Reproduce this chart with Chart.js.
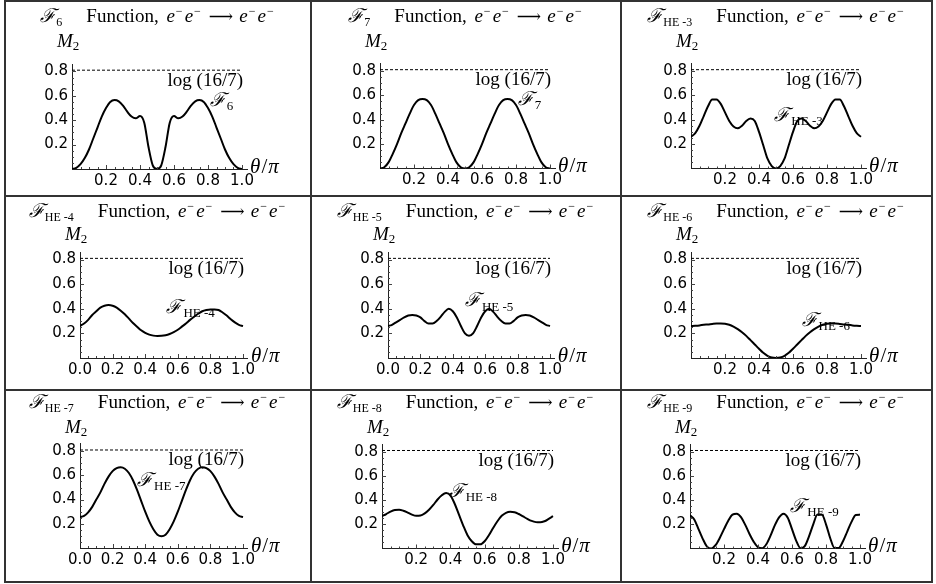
<!DOCTYPE html>
<html>
<head>
<meta charset="utf-8">
<script src="https://cdn.jsdelivr.net/npm/chart.js@4.4.1/dist/chart.umd.min.js"></script>
<style>
  html, body { margin: 0; padding: 0; background: #fff; }
  #sheet { position: relative; width: 936px; height: 584px; overflow: hidden; }
  .cell { position: absolute; }
  .cell canvas { position: absolute; left: 0; top: 0; }
  .rule { position: absolute; background: #333; }
  .title {
    position: absolute; left: 0; right: 0; height: 20px; line-height: 20px;
    text-align: center; white-space: nowrap; color: #000;
    font-family: "Liberation Serif", "DejaVu Serif", serif; font-size: 19px; word-spacing: 3px;
  }
  .title .cal { font-family: "DejaVu Serif", serif; font-style: italic; font-size: 19px; }
  .title sub, .title sup { font-size: 12px; line-height: 0; position: relative; vertical-align: baseline; word-spacing: 0; }
  .title sub { top: 4px; }
  .title sup { top: -7px; margin: 0 2px 0 1px; }
  .title .gap { display: inline-block; width: 24px; }
  .title .arr { font-family: "DejaVu Serif", serif; font-size: 17px; margin: 0 6px; }
</style>
</head>
<body>
<div id="sheet"></div>
<script>
'use strict';

/* ---------- data ---------- */
const theta = [0, 0.025, 0.05, 0.075, 0.1, 0.125, 0.15, 0.175, 0.2, 0.225, 0.25, 0.275, 0.3, 0.325, 0.35, 0.375, 0.4, 0.425, 0.45, 0.475, 0.5,
  0.525, 0.55, 0.575, 0.6, 0.625, 0.65, 0.675, 0.7, 0.725, 0.75, 0.775, 0.8, 0.825, 0.85, 0.875, 0.9, 0.925, 0.95, 0.975, 1];

const f6 = [0, 0.01, 0.04, 0.09, 0.16, 0.25, 0.34, 0.43, 0.50, 0.55, 0.565, 0.555, 0.52, 0.47, 0.43, 0.415, 0.435, 0.38, 0.18, 0.03, 0,
  0.03, 0.18, 0.38, 0.435, 0.415, 0.43, 0.47, 0.52, 0.555, 0.565, 0.55, 0.50, 0.43, 0.34, 0.25, 0.16, 0.09, 0.04, 0.01, 0];
const f7 = [0, 0.01, 0.05, 0.12, 0.2, 0.29, 0.37, 0.45, 0.52, 0.56, 0.57, 0.56, 0.52, 0.45, 0.37, 0.29, 0.2, 0.12, 0.05, 0.01, 0,
  0.01, 0.05, 0.12, 0.2, 0.29, 0.37, 0.45, 0.52, 0.56, 0.57, 0.56, 0.52, 0.45, 0.37, 0.29, 0.2, 0.12, 0.05, 0.01, 0];
const he3 = [0.26, 0.29, 0.35, 0.43, 0.51, 0.565, 0.565, 0.53, 0.46, 0.39, 0.345, 0.33, 0.35, 0.39, 0.41, 0.39, 0.30, 0.19, 0.08, 0.02, 0,
  0.02, 0.08, 0.19, 0.30, 0.39, 0.41, 0.39, 0.35, 0.33, 0.345, 0.39, 0.46, 0.53, 0.565, 0.565, 0.51, 0.43, 0.35, 0.29, 0.26];
const he4 = [0.26, 0.28, 0.31, 0.35, 0.38, 0.41, 0.425, 0.43, 0.425, 0.41, 0.385, 0.355, 0.32, 0.285, 0.255, 0.225, 0.205, 0.19, 0.182, 0.179, 0.18,
  0.185, 0.195, 0.21, 0.23, 0.255, 0.28, 0.31, 0.335, 0.36, 0.38, 0.39, 0.395, 0.395, 0.39, 0.37, 0.345, 0.315, 0.29, 0.27, 0.26];
const he5 = [0.26, 0.27, 0.29, 0.31, 0.33, 0.345, 0.35, 0.345, 0.33, 0.30, 0.28, 0.28, 0.30, 0.335, 0.375, 0.40, 0.38, 0.33, 0.26, 0.20, 0.18,
  0.20, 0.26, 0.33, 0.38, 0.40, 0.375, 0.335, 0.30, 0.28, 0.28, 0.30, 0.33, 0.345, 0.35, 0.345, 0.33, 0.31, 0.29, 0.27, 0.26];
const he6 = [0.26, 0.262, 0.265, 0.27, 0.273, 0.277, 0.28, 0.28, 0.278, 0.27, 0.255, 0.235, 0.21, 0.18, 0.145, 0.11, 0.075, 0.042, 0.018, 0.004, 0,
  0.004, 0.018, 0.042, 0.075, 0.11, 0.145, 0.18, 0.21, 0.235, 0.255, 0.27, 0.278, 0.28, 0.28, 0.277, 0.273, 0.27, 0.265, 0.262, 0.26];
const he7 = [0.255, 0.265, 0.295, 0.34, 0.40, 0.46, 0.53, 0.59, 0.635, 0.66, 0.667, 0.655, 0.62, 0.56, 0.48, 0.39, 0.30, 0.22, 0.155, 0.11, 0.097,
  0.11, 0.155, 0.22, 0.30, 0.39, 0.48, 0.56, 0.62, 0.655, 0.667, 0.66, 0.635, 0.59, 0.53, 0.46, 0.40, 0.34, 0.295, 0.265, 0.255];
const he8 = [0.267, 0.285, 0.305, 0.318, 0.32, 0.312, 0.297, 0.28, 0.27, 0.272, 0.29, 0.32, 0.36, 0.405, 0.44, 0.458, 0.44, 0.37, 0.28, 0.19, 0.11,
  0.06, 0.035, 0.035, 0.06, 0.11, 0.17, 0.225, 0.27, 0.295, 0.303, 0.30, 0.285, 0.265, 0.245, 0.228, 0.218, 0.216, 0.225, 0.245, 0.267];
const he9 = [0.275, 0.24, 0.16, 0.08, 0.016, 0, 0.027, 0.087, 0.16, 0.23, 0.28, 0.288, 0.26, 0.195, 0.12, 0.055, 0.01, 0.002, 0.037, 0.11, 0.195,
  0.26, 0.288, 0.255, 0.16, 0.063, 0.003, 0.019, 0.1, 0.2, 0.28, 0.28, 0.2, 0.085, 0.005, 0.005, 0.06, 0.14, 0.22, 0.277, 0.28];

const xTicksFrom0 = [0, 0.2, 0.4, 0.6, 0.8, 1.0];
const xTicksFrom02 = [0.2, 0.4, 0.6, 0.8, 1.0];
const yTicks = [0.2, 0.4, 0.6, 0.8];
const logLine = 0.81;          // log(16/7) reference line
const names = ['6', '7', 'HE -3', 'HE -4', 'HE -5', 'HE -6', 'HE -7', 'HE -8', 'HE -9'];

/* ---------- layout (pixels) ---------- */
const X_MAX = 1.03, Y_MAX = 0.86;
const colX = [6, 312, 622], colW = [304, 308, 309];
const rowY = [2, 197, 391], rowH = [193, 192, 190];
const titleMid = [15, 210, 401];
const m2Mid = [42, 235, 428];
const SERIF = '"Liberation Serif", "DejaVu Serif", serif';
const SANS = '"DejaVu Sans", sans-serif';

// axis origin (ax, ay), px per unit (sx, sy), label spot in data units
const panels = [
  { vals: f6,  ticks: xTicksFrom02, ax: 72,  ay: 169,   sx: 170, sy: 122, lab: [0.81, 0.56] },
  { vals: f7,  ticks: xTicksFrom02, ax: 380, ay: 168.5, sx: 170, sy: 122, lab: [0.81, 0.565] },
  { vals: he3, ticks: xTicksFrom02, ax: 691, ay: 168.5, sx: 170, sy: 122, lab: [0.49, 0.43] },
  { vals: he4, ticks: xTicksFrom0,  ax: 80,  ay: 358,   sx: 163, sy: 123, lab: [0.53, 0.41] },
  { vals: he5, ticks: xTicksFrom0,  ax: 388, ay: 358,   sx: 162, sy: 123, lab: [0.475, 0.46] },
  { vals: he6, ticks: xTicksFrom02, ax: 691, ay: 358,   sx: 170, sy: 123, lab: [0.65, 0.30] },
  { vals: he7, ticks: xTicksFrom0,  ax: 80,  ay: 548,   sx: 163, sy: 121, lab: [0.35, 0.555] },
  { vals: he8, ticks: xTicksFrom02, ax: 382, ay: 548.5, sx: 171, sy: 121, lab: [0.39, 0.47] },
  { vals: he9, ticks: xTicksFrom02, ax: 690, ay: 548.5, sx: 170, sy: 121, lab: [0.59, 0.34] }
];

/* ---------- helpers ---------- */
function drawScript(ctx, x, y, sub, size) {
  // calligraphic F with an upright subscript, vertically centred on y
  ctx.textAlign = 'left';
  ctx.textBaseline = 'middle';
  ctx.font = 'italic ' + size + 'px "DejaVu Serif", serif';
  ctx.fillText('ℱ', x, y);
  const w = ctx.measureText('ℱ').width;
  ctx.font = Math.round(size * 0.68) + 'px ' + SERIF;
  ctx.fillText(sub, x + w + 1, y + size * 0.3);
}

const decor = {
  id: 'decor',
  afterDraw(chart, args, opts) {
    const { ctx } = chart;
    const x = chart.scales.x, y = chart.scales.y;
    ctx.save();
    ctx.fillStyle = '#000';

    // tick marks pointing into the plot (major every 0.2, minor every 0.05)
    ctx.strokeStyle = '#444';
    ctx.lineWidth = 1;
    for (let k = 1; k <= 20; k++) {
      const px = Math.round(x.getPixelForValue(k / 20)) + 0.5;
      const len = k % 4 === 0 ? 4 : 2;
      ctx.beginPath(); ctx.moveTo(px, y.bottom); ctx.lineTo(px, y.bottom - len); ctx.stroke();
    }
    for (let k = 1; k <= 16; k++) {
      const py = Math.round(y.getPixelForValue(k / 20)) + 0.5;
      const len = k % 4 === 0 ? 4 : 2;
      ctx.beginPath(); ctx.moveTo(x.left, py); ctx.lineTo(x.left + len, py); ctx.stroke();
    }

    // log(16/7) under the dashed line
    ctx.font = '19px ' + SERIF;
    ctx.textAlign = 'right';
    ctx.textBaseline = 'top';
    ctx.fillText('log (16/7)', x.getPixelForValue(1) + 1, y.getPixelForValue(logLine) + 1);

    // curve label
    drawScript(ctx, x.getPixelForValue(opts.lab[0]), y.getPixelForValue(opts.lab[1]), opts.name, 19);

    // M_2 above the vertical axis
    const my = opts.mY;
    ctx.textAlign = 'left';
    ctx.textBaseline = 'middle';
    ctx.font = 'italic 19px ' + SERIF;
    ctx.fillText('M', x.left - 15, my);
    const mw = ctx.measureText('M').width;
    ctx.font = '13px ' + SERIF;
    ctx.fillText('2', x.left - 15 + mw, my + 5);

    // θ/π at the end of the horizontal axis
    let tx = x.right + 3;
    const ty = y.bottom - 2;
    ctx.font = 'italic 21px ' + SERIF;
    ctx.fillText('θ', tx, ty); tx += ctx.measureText('θ').width + 1;
    ctx.font = '21px ' + SERIF;
    ctx.fillText('/', tx, ty); tx += ctx.measureText('/').width + 1;
    ctx.font = 'italic 21px ' + SERIF;
    ctx.fillText('π', tx, ty);
    ctx.restore();
  }
};

/* ---------- build the sheet ---------- */
const sheet = document.getElementById('sheet');

function rule(l, t, w, h) {
  const d = document.createElement('div');
  d.className = 'rule';
  Object.assign(d.style, { left: l + 'px', top: t + 'px', width: w + 'px', height: h + 'px' });
  sheet.appendChild(d);
}
[4, 310, 620, 931].forEach(l => rule(l, 0, 2, 583));
[0, 195, 389, 581].forEach(t => rule(4, t, 929, 2));

panels.forEach((p, i) => {
  const col = i % 3, row = Math.floor(i / 3);
  const cx = colX[col], cy = rowY[row], cw = colW[col], ch = rowH[row];

  const cell = document.createElement('div');
  cell.className = 'cell';
  Object.assign(cell.style, { left: cx + 'px', top: cy + 'px', width: cw + 'px', height: ch + 'px' });
  const canvas = document.createElement('canvas');
  canvas.width = cw; canvas.height = ch;
  cell.appendChild(canvas);
  sheet.appendChild(cell);

  const title = document.createElement('div');
  title.className = 'title';
  title.style.left = cx + 'px';
  title.style.width = cw + 'px';
  title.style.top = (titleMid[row] - 10) + 'px';
  title.innerHTML = '<span class="cal">ℱ</span><sub>' + names[i] + '</sub><span class="gap"></span>Function, ' +
    '<i>e</i><sup>−</sup><i>e</i><sup>−</sup><span class="arr">⟶</span><i>e</i><sup>−</sup><i>e</i><sup>−</sup>';
  sheet.appendChild(title);

  const yAxisW = p.ax - cx;
  const padTop = (p.ay - Y_MAX * p.sy) - cy;
  const xAxisH = cy + ch - p.ay;
  const padRight = cx + cw - (p.ax + X_MAX * p.sx);

  const tickFont = { family: SANS, size: 15 };

  new Chart(canvas, {
    type: 'line',
    data: {
      datasets: [
        {
          data: theta.map((t, k) => ({ x: t, y: p.vals[k] })),
          borderColor: '#000',
          borderWidth: 2,
          pointRadius: 0,
          cubicInterpolationMode: 'monotone',
          fill: false
        },
        {
          data: [{ x: 0, y: logLine }, { x: 1, y: logLine }],
          borderColor: '#000',
          borderWidth: 1,
          borderDash: [3, 2],
          pointRadius: 0,
          fill: false
        }
      ]
    },
    options: {
      responsive: false,
      animation: false,
      events: [],
      layout: { padding: { left: 0, top: padTop, right: padRight, bottom: 0 } },
      plugins: {
        legend: { display: false },
        tooltip: { enabled: false },
        decor: { lab: p.lab, name: names[i], mY: m2Mid[row] - cy }
      },
      scales: {
        x: {
          type: 'linear', min: 0, max: X_MAX,
          afterBuildTicks: s => { s.ticks = p.ticks.map(v => ({ value: v })); },
          afterFit: s => { s.height = xAxisH; },
          grid: { display: false, drawTicks: false },
          border: { display: true, color: '#222', width: 1 },
          ticks: { color: '#000', font: tickFont, padding: 3, autoSkip: false, maxRotation: 0,
                   callback: v => v.toFixed(1) }
        },
        y: {
          type: 'linear', min: 0, max: Y_MAX,
          afterBuildTicks: s => { s.ticks = yTicks.map(v => ({ value: v })); },
          afterFit: s => { s.width = yAxisW; },
          grid: { display: false, drawTicks: false },
          border: { display: true, color: '#222', width: 1 },
          ticks: { color: '#000', font: tickFont, padding: 4, callback: v => v.toFixed(1) }
        }
      }
    },
    plugins: [decor]
  });
});
</script>
</body>
</html>
